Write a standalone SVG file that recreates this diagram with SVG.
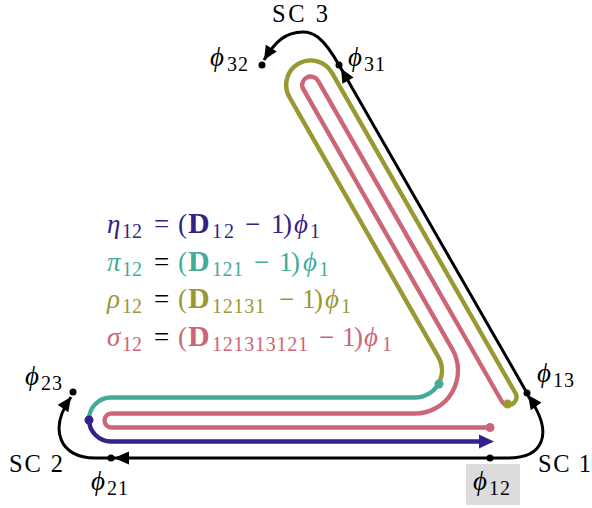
<svg xmlns="http://www.w3.org/2000/svg" width="592" height="508" viewBox="0 0 592 508">
<style>
text{font-family:"Liberation Serif","DejaVu Serif",serif;font-size:27px;fill:#000}
.i{font-style:italic}
.s{font-size:20px}
.b{font-weight:bold;font-size:30px}
.sc{font-size:24.5px}
.k{fill:none;stroke:#000;stroke-width:3}
.c{fill:none;stroke-width:4.4;stroke-linecap:round}
.dk{fill:#000}
.eta{fill:#332288}.pi{fill:#44AA99}.rho{fill:#999933}.sig{fill:#CC6677}
</style>
<rect x="466" y="464" width="54" height="41" fill="#dcdcdc"/>
<g id="connectors">
  <path class="c" stroke="#CC6677" d="M507.5,404.9 A8,8 0 0 1 501.6,401 L318.1,80.8 A8.5,8.5 0 0 0 303.3,89.2 L452.3,349.1 A43,43 0 0 1 415,413.5 L111.5,413.5 A7,7 0 0 0 111.5,427.5 L490,427.5"/>
  <path class="c" stroke="#999933" d="M438.8,383.2 A27,27 0 0 0 438.4,357.1 L289.4,97.2 A24.5,24.5 0 0 1 332,72.8 L515.4,393 A8,8 0 0 1 507.5,404.9"/>
  <path class="c" stroke="#44AA99" d="M89,419.5 A22,22 0 0 1 111,397.5 L415,397.5 A27,27 0 0 0 438.8,383.2"/>
  <path class="c" stroke="#332288" d="M89,419.5 A22,22 0 0 0 111,441.5 L482,441.5"/>
  <polygon class="eta" points="479,434.5 494,441.5 479,448.5"/>
  <circle class="sig" cx="490" cy="427.5" r="4.5"/>
  <circle class="rho" cx="507.5" cy="404" r="4.5"/>
  <circle class="pi" cx="439" cy="384" r="4.5"/>
  <circle class="eta" cx="89" cy="420" r="4.5"/>
  <path class="k" d="M71,397 C48,430 60,458 95,458 L508,458 C543,458 555,434 528,396"/>
  <path class="k" d="M527,393 L339,65 C322,35 312,32 303,32 C285,32 275,42 264,60"/>
  <polygon class="dk" points="114,458 129,451.5 129,464.5"/>
  <polygon class="dk" points="528,395 541.4,402.6 530.8,410.2"/>
  <polygon class="dk" points="341,68.5 353.6,77.4 342.4,83.8"/>
  <polygon class="dk" points="264,60 276.8,51.5 265.8,44.7"/>
  <polygon class="dk" points="71,397 68.3,412.2 57.7,404.8"/>
</g>
<g id="sc3"><text class="sc" x="272" y="22" textLength="56">SC 3</text></g>
<g id="sc2"><text class="sc" x="9" y="472" textLength="54">SC 2</text></g>
<g id="sc1"><text class="sc" x="538" y="472" textLength="53">SC 1</text></g>
<g id="phi32"><circle class="dk" cx="262" cy="65" r="3.5"/><text x="210" y="66"><tspan class="i">ϕ</tspan><tspan class="s" x="227" y="71" textLength="21">32</tspan></text></g>
<g id="phi31"><circle class="dk" cx="339" cy="65" r="3.5"/><text x="348" y="66"><tspan class="i">ϕ</tspan><tspan class="s" x="364" y="71" textLength="21">31</tspan></text></g>
<g id="phi23"><circle class="dk" cx="73" cy="392" r="3.5"/><text x="25" y="385"><tspan class="i">ϕ</tspan><tspan class="s" x="41" y="390" textLength="21">23</tspan></text></g>
<g id="phi21"><circle class="dk" cx="111" cy="458" r="3.5"/><text x="91" y="490"><tspan class="i">ϕ</tspan><tspan class="s" x="107" y="495" textLength="21">21</tspan></text></g>
<g id="phi13"><circle class="dk" cx="527" cy="393" r="3.5"/><text x="537" y="382"><tspan class="i">ϕ</tspan><tspan class="s" x="553" y="387" textLength="21">13</tspan></text></g>
<g id="phi12"><circle class="dk" cx="490" cy="458" r="3.5"/><text x="473" y="490"><tspan class="i">ϕ</tspan><tspan class="s" x="489" y="495" textLength="21">12</tspan></text></g>
<g id="equations">
<text class="eta"><tspan class="i" x="107" y="233">η</tspan><tspan class="s" x="122" y="238" textLength="20">12</tspan><tspan x="154" y="233">=</tspan><tspan x="178" y="233">(</tspan><tspan class="b" x="188" y="233">D</tspan><tspan class="s" x="212" y="238" textLength="22">12</tspan><tspan x="245" y="233">−</tspan><tspan x="271" y="233">1</tspan><tspan x="283" y="233">)</tspan><tspan class="i" x="294" y="233">ϕ</tspan><tspan class="s" x="310" y="238">1</tspan></text>
<text class="pi"><tspan class="i" x="107" y="271">π</tspan><tspan class="s" x="122" y="276" textLength="20">12</tspan><tspan class="dk" x="154" y="271">=</tspan><tspan x="178" y="271">(</tspan><tspan class="b" x="188" y="271">D</tspan><tspan class="s" x="212" y="276" textLength="31">121</tspan><tspan x="254" y="271">−</tspan><tspan x="279" y="271">1</tspan><tspan x="291" y="271">)</tspan><tspan class="i" x="303" y="271">ϕ</tspan><tspan class="s" x="319" y="276">1</tspan></text>
<text class="rho"><tspan class="i" x="107" y="308">ρ</tspan><tspan class="s" x="122" y="313" textLength="20">12</tspan><tspan class="dk" x="154" y="308">=</tspan><tspan x="178" y="308">(</tspan><tspan class="b" x="188" y="308">D</tspan><tspan class="s" x="212" y="313" textLength="53">12131</tspan><tspan x="279" y="308">−</tspan><tspan x="302" y="308">1</tspan><tspan x="314" y="308">)</tspan><tspan class="i" x="325" y="308">ϕ</tspan><tspan class="s" x="341" y="313">1</tspan></text>
<text class="sig"><tspan class="i" x="107" y="346">σ</tspan><tspan class="s" x="122" y="351" textLength="20">12</tspan><tspan class="dk" x="154" y="346">=</tspan><tspan x="178" y="346">(</tspan><tspan class="b" x="188" y="346">D</tspan><tspan class="s" x="212" y="351" textLength="96">121313121</tspan><tspan x="319" y="346">−</tspan><tspan x="342" y="346">1</tspan><tspan x="354" y="346">)</tspan><tspan class="i" x="364" y="346">ϕ</tspan><tspan class="s" x="382" y="351">1</tspan></text>
</g>
</svg>
